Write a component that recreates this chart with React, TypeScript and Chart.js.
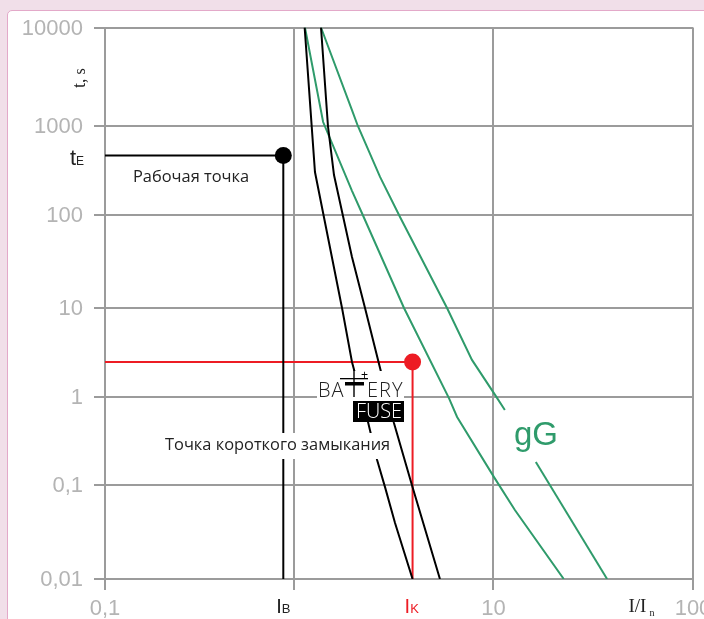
import React, { useEffect, useRef } from "react";
import { Chart, registerables, LogarithmicScale } from "chart.js";

const xDecades = [0.1, 1, 10, 100];
const yDecades = [0.01, 0.1, 1, 10, 100, 1000, 10000];
const xTickLabels: Record<string, string> = { "0.1": "0,1", "1": "", "10": "10", "100": "100" };
const yTickLabels: Record<string, string> = {
  "0.01": "0,01", "0.1": "0,1", "1": "1", "10": "10", "100": "100", "1000": "1000", "10000": "10000",
};

// The printed axes are not evenly spaced: where each decade sits along its axis
const xDecadeFractions = [0, 0.3214, 0.6607, 1];
const yDecadeFractions = [0, 0.1704, 0.33, 0.4914, 0.6609, 0.8214, 1];

const operatingCurrent = 0.878;
const operatingTime = 464;
const faultCurrent = 3.93;
const faultTime = 2.47;

const batteryLowX = [1.131, 1.274, 1.741, 1.953, 2.35, 2.61, 2.86, 3.21, 3.93];
const batteryLowY = [10000, 302, 10, 2.47, 0.52, 0.192, 0.095, 0.0394, 0.01];
const batteryHighX = [1.366, 1.48, 1.587, 1.953, 2.27, 2.7, 3.17, 3.9, 5.39];
const batteryHighY = [10000, 1000, 279, 35.1, 10, 2.12, 0.507, 0.1, 0.01];
const gGLowX = [1.135, 1.4, 1.953, 2.19, 3.56, 5.98, 6.57, 10.06, 12.8, 22.5];
const gGLowY = [10000, 1097, 185, 104, 10, 0.97, 0.593, 0.123, 0.0542, 0.01];
const gGHighUpperX = [1.366, 1.953, 2.09, 2.7, 3.4, 5.85, 7.8, 10.2, 11.4];
const gGHighUpperY = [10000, 1452, 1000, 266, 94, 10, 2.61, 1.05, 0.712];
const gGHighLowerX = [16.3, 37.1];
const gGHighLowerY = [0.183, 0.01];

const GREEN = "#2f9b6b";
const RED = "#ed1c24";
const GRID = "#9b9b9b";
const TICK_TEXT = "#b4b4b4";
const SANS = '"Liberation Sans", Arial, sans-serif';
const SERIF = '"Liberation Serif", serif';
const OPEN = '"Open Sans", sans-serif';

class PrintedLogScale extends LogarithmicScale {
  static id = "printedLog";
  static defaults = (LogarithmicScale as any).defaults;
  getPixelForValue(value: number) {
    const fractions = (this as any).axis === "x" ? xDecadeFractions : yDecadeFractions;
    const first = (this as any).axis === "x" ? -1 : -2;
    const d = Math.log10(value) - first;
    const i = Math.max(0, Math.min(fractions.length - 2, Math.floor(d)));
    const f = fractions[i] + (d - i) * (fractions[i + 1] - fractions[i]);
    return (this as any).getPixelForDecimal(f);
  }
}

Chart.register(...registerables, PrintedLogScale as any);

const pairs = (xs: number[], ys: number[]) => xs.map((x, i) => ({ x, y: ys[i] }));

const line = (data: { x: number; y: number }[], color: string) => ({
  data,
  borderColor: color,
  backgroundColor: color,
  borderWidth: 2,
  pointRadius: 0,
  showLine: true,
  tension: 0,
});

const dot = (x: number, y: number, color: string) => ({
  data: [{ x, y }],
  borderColor: color,
  backgroundColor: color,
  pointRadius: 8.5,
  pointBorderWidth: 0,
  showLine: false,
});

function rich(ctx: CanvasRenderingContext2D, parts: [string, string][], x: number, y: number, color: string) {
  ctx.fillStyle = color;
  let cx = x;
  for (const [text, font] of parts) {
    ctx.font = font;
    ctx.fillText(text, cx, y);
    cx += ctx.measureText(text).width;
  }
}

const annotations = {
  id: "annotations",
  afterDatasetsDraw(chart: any) {
    const ctx: any = chart.ctx;
    const xs = chart.scales.x;
    ctx.save();
    ctx.textBaseline = "alphabetic";
    ctx.textAlign = "left";

    // white boxes behind the two inset captions
    ctx.fillStyle = "#ffffff";
    ctx.fillRect(165, 433, 227, 26);
    ctx.fillRect(317, 371, 87, 51);

    ctx.fillStyle = "#222222";
    ctx.font = `16.4px ${OPEN}`;
    ctx.fillText("Рабочая точка", 133, 182);
    ctx.fillText("Точка короткого замыкания", 165, 450);

    // battery fuse logo
    ctx.font = `300 20px ${OPEN}`;
    ctx.fillStyle = "#222222";
    ctx.letterSpacing = "1px";
    ctx.fillText("BA", 318, 397);
    ctx.fillText("ERY", 367, 397);
    ctx.fillStyle = "#000000";
    ctx.letterSpacing = "0px";
    ctx.fillRect(340, 378, 28, 1.3);
    ctx.fillRect(345, 382, 19, 3.5);
    ctx.fillRect(353.3, 370, 1.4, 27);
    ctx.font = `12px ${SANS}`;
    ctx.fillText("+", 361, 379);
    ctx.fillRect(353, 401, 51, 21);
    ctx.fillStyle = "#ffffff";
    ctx.font = `300 20px ${OPEN}`;
    ctx.fillText("FUSE", 356, 418, 46);

    ctx.fillStyle = GREEN;
    ctx.font = `33px ${SANS}`;
    ctx.fillText("gG", 514, 445);

    // axis captions
    rich(ctx, [["t", `22px ${SANS}`], ["E", `12px ${SANS}`]], 70, 165, "#222222");
    const ib = xs.getPixelForValue(operatingCurrent);
    const ik = xs.getPixelForValue(faultCurrent);
    rich(ctx, [["I", `20px ${SANS}`], ["B", `13px ${SANS}`]], ib - 7, 612.5, "#222222");
    rich(ctx, [["I", `20px ${SANS}`], ["K", `13px ${SANS}`]], ik - 8, 612.5, RED);
    rich(ctx, [["I/I", `19px ${SERIF}`]], 628.5, 611.5, "#222222");
    rich(ctx, [["n", `10px ${SERIF}`]], 649.5, 616, "#222222");

    ctx.translate(85, 88);
    ctx.rotate(-Math.PI / 2);
    rich(ctx, [["t,", `18px ${SERIF}`], [" s", `16px ${SERIF}`]], 0, 0, "#222222");
    ctx.restore();
  },
};

export default function App() {
  const ref = useRef<HTMLCanvasElement>(null);
  useEffect(() => {
    const chart = new Chart(ref.current as HTMLCanvasElement, {
      type: "scatter",
      data: {
        datasets: [
          line(pairs([0.1, operatingCurrent], [operatingTime, operatingTime]), "#000000"),
          line(pairs([operatingCurrent, operatingCurrent], [operatingTime, 0.01]), "#000000"),
          line(pairs(batteryLowX, batteryLowY), "#000000"),
          line(pairs(batteryHighX, batteryHighY), "#000000"),
          line(pairs(gGLowX, gGLowY), GREEN),
          line(pairs(gGHighUpperX, gGHighUpperY), GREEN),
          line(pairs(gGHighLowerX, gGHighLowerY), GREEN),
          line(pairs([0.1, faultCurrent], [faultTime, faultTime]), RED),
          line(pairs([faultCurrent, faultCurrent], [faultTime, 0.01]), RED),
          dot(operatingCurrent, operatingTime, "#000000"),
          dot(faultCurrent, faultTime, RED),
        ] as any,
      },
      plugins: [annotations as any],
      options: {
        responsive: false,
        animation: false,
        devicePixelRatio: 1,
        layout: { padding: { left: 0, right: 11, top: 27.5, bottom: 0 } },
        plugins: { legend: { display: false }, tooltip: { enabled: false }, title: { display: false } },
        scales: {
          x: {
            type: "printedLog",
            axis: "x",
            position: "bottom",
            min: 0.1,
            max: 100,
            afterBuildTicks: (s: any) => { s.ticks = xDecades.map((value) => ({ value })); },
            afterFit: (s: any) => { s.height = 40; s.paddingLeft = 0; s.paddingRight = 0; },
            grid: { color: GRID, lineWidth: 2, tickLength: 11, tickColor: GRID, drawTicks: true },
            border: { display: false },
            ticks: {
              autoSkip: false,
              maxRotation: 0,
              padding: 6,
              color: TICK_TEXT,
              font: { family: SANS, size: 22 },
              callback: (v: any) => xTickLabels[String(v)] ?? "",
            },
          },
          y: {
            type: "printedLog",
            axis: "y",
            position: "left",
            min: 0.01,
            max: 10000,
            afterBuildTicks: (s: any) => { s.ticks = yDecades.map((value) => ({ value })); },
            afterFit: (s: any) => { s.width = 105; s.paddingTop = 0; s.paddingBottom = 0; },
            grid: { color: GRID, lineWidth: 2, tickLength: 11, tickColor: GRID, drawTicks: true },
            border: { display: false },
            ticks: {
              autoSkip: false,
              padding: 11,
              labelOffset: 1,
              color: TICK_TEXT,
              font: { family: SANS, size: 22 },
              callback: (v: any) => yTickLabels[String(v)] ?? "",
            },
          },
        } as any,
      },
    });
    return () => chart.destroy();
  }, []);

  return (
    <div style={{ position: "fixed", inset: 0, overflow: "hidden", background: "#f1dfe9" }}>
      <div
        style={{
          position: "absolute",
          left: 7,
          top: 10,
          width: 720,
          height: 640,
          background: "#ffffff",
          border: "1px solid #e3a9c9",
          borderRadius: 5,
        }}
      />
      <canvas ref={ref} width={704} height={619} style={{ position: "absolute", left: 0, top: 0, width: 704, height: 619 }} />
    </div>
  );
}
